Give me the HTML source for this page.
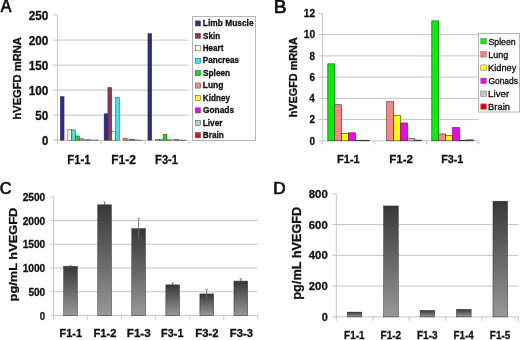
<!DOCTYPE html>
<html><head><meta charset="utf-8"><style>
html,body{margin:0;padding:0;background:#fff;overflow:hidden;}
svg{display:block;will-change:transform;}
text{font-family:"Liberation Sans", sans-serif;}
</style></head>
<body><svg width="520" height="340" viewBox="0 0 520 340">
<defs><linearGradient id="g" x1="0" y1="0" x2="0" y2="1"><stop offset="0" stop-color="#383838"/><stop offset="1" stop-color="#989898"/></linearGradient></defs>
<rect width="520" height="340" fill="#fff"/>
<line x1="57.4" y1="115.18" x2="188.5" y2="115.18" stroke="#c4c4c4" stroke-width="1"/>
<line x1="57.4" y1="90.16" x2="188.5" y2="90.16" stroke="#c4c4c4" stroke-width="1"/>
<line x1="57.4" y1="65.14" x2="188.5" y2="65.14" stroke="#c4c4c4" stroke-width="1"/>
<line x1="57.4" y1="40.12" x2="188.5" y2="40.12" stroke="#c4c4c4" stroke-width="1"/>
<line x1="57.4" y1="15.1" x2="57.4" y2="140.2" stroke="#c6c6c6" stroke-width="1"/>
<line x1="57.4" y1="140.2" x2="188.5" y2="140.2" stroke="#c6c6c6" stroke-width="1"/>
<line x1="53.4" y1="140.2" x2="57.4" y2="140.2" stroke="#c6c6c6" stroke-width="1"/>
<text transform="translate(41.97,144.8) scale(0.928,1)" font-size="12.2" font-weight="bold" fill="#111" stroke="#111" stroke-width="0.3">0</text>
<line x1="53.4" y1="115.18" x2="57.4" y2="115.18" stroke="#c6c6c6" stroke-width="1"/>
<text transform="translate(35.32,119.78) scale(0.956,1)" font-size="12.2" font-weight="bold" fill="#111" stroke="#111" stroke-width="0.3">50</text>
<line x1="53.4" y1="90.16" x2="57.4" y2="90.16" stroke="#c6c6c6" stroke-width="1"/>
<text transform="translate(28.65,94.76) scale(0.964,1)" font-size="12.2" font-weight="bold" fill="#111" stroke="#111" stroke-width="0.3">100</text>
<line x1="53.4" y1="65.14" x2="57.4" y2="65.14" stroke="#c6c6c6" stroke-width="1"/>
<text transform="translate(28.65,69.74) scale(0.964,1)" font-size="12.2" font-weight="bold" fill="#111" stroke="#111" stroke-width="0.3">150</text>
<line x1="53.4" y1="40.12" x2="57.4" y2="40.12" stroke="#c6c6c6" stroke-width="1"/>
<text transform="translate(28.65,44.72) scale(0.965,1)" font-size="12.2" font-weight="bold" fill="#111" stroke="#111" stroke-width="0.3">200</text>
<line x1="53.4" y1="15.1" x2="57.4" y2="15.1" stroke="#c6c6c6" stroke-width="1"/>
<text transform="translate(28.65,19.7) scale(0.965,1)" font-size="12.2" font-weight="bold" fill="#111" stroke="#111" stroke-width="0.3">250</text>
<line x1="57.4" y1="140.2" x2="57.4" y2="144" stroke="#c6c6c6" stroke-width="1"/>
<line x1="101.23" y1="140.2" x2="101.23" y2="144" stroke="#c6c6c6" stroke-width="1"/>
<line x1="145.07" y1="140.2" x2="145.07" y2="144" stroke="#c6c6c6" stroke-width="1"/>
<line x1="188.9" y1="140.2" x2="188.9" y2="144" stroke="#c6c6c6" stroke-width="1"/>
<rect x="60.26" y="96.67" width="3.81" height="43.53" fill="#2c2c94" stroke="#2a2a2a" stroke-width="0.45"/>
<rect x="67.88" y="129.19" width="3.81" height="11.01" fill="#ffffd0" stroke="#2a2a2a" stroke-width="0.45"/>
<rect x="71.69" y="129.89" width="3.81" height="10.31" fill="#22f0f0" stroke="#2a2a2a" stroke-width="0.45"/>
<rect x="75.51" y="135.95" width="3.81" height="4.25" fill="#14e014" stroke="#2a2a2a" stroke-width="0.45"/>
<rect x="79.32" y="138.5" width="3.81" height="1.7" fill="#ff8484" stroke="#2a2a2a" stroke-width="0.45"/>
<rect x="83.13" y="139.85" width="3.81" height="0.35" fill="#ffff20" stroke="#2a2a2a" stroke-width="0.45"/>
<rect x="86.94" y="139.82" width="3.81" height="0.38" fill="#e010e0" stroke="#2a2a2a" stroke-width="0.45"/>
<rect x="90.75" y="140.15" width="3.81" height="0.05" fill="#c8c8c8" stroke="#2a2a2a" stroke-width="0.45"/>
<rect x="94.56" y="140.05" width="3.81" height="0.15" fill="#e81010" stroke="#2a2a2a" stroke-width="0.45"/>
<rect x="104.09" y="113.78" width="3.81" height="26.42" fill="#2c2c94" stroke="#2a2a2a" stroke-width="0.45"/>
<rect x="107.9" y="87.46" width="3.81" height="52.74" fill="#923260" stroke="#2a2a2a" stroke-width="0.45"/>
<rect x="111.72" y="131.44" width="3.81" height="8.76" fill="#ffffd0" stroke="#2a2a2a" stroke-width="0.45"/>
<rect x="115.53" y="97.77" width="3.81" height="42.43" fill="#22f0f0" stroke="#2a2a2a" stroke-width="0.45"/>
<rect x="123.15" y="138.35" width="3.81" height="1.85" fill="#ff8484" stroke="#2a2a2a" stroke-width="0.45"/>
<rect x="126.96" y="139" width="3.81" height="1.2" fill="#ffff20" stroke="#2a2a2a" stroke-width="0.45"/>
<rect x="130.77" y="139.35" width="3.81" height="0.85" fill="#e010e0" stroke="#2a2a2a" stroke-width="0.45"/>
<rect x="134.58" y="140.05" width="3.81" height="0.15" fill="#c8c8c8" stroke="#2a2a2a" stroke-width="0.45"/>
<rect x="138.4" y="140.15" width="3.81" height="0.05" fill="#e81010" stroke="#2a2a2a" stroke-width="0.45"/>
<rect x="147.93" y="33.61" width="3.81" height="106.59" fill="#2c2c94" stroke="#2a2a2a" stroke-width="0.45"/>
<rect x="155.55" y="139.7" width="3.81" height="0.5" fill="#ffffd0" stroke="#2a2a2a" stroke-width="0.45"/>
<rect x="159.36" y="139.7" width="3.81" height="0.5" fill="#22f0f0" stroke="#2a2a2a" stroke-width="0.45"/>
<rect x="163.17" y="134.2" width="3.81" height="6" fill="#14e014" stroke="#2a2a2a" stroke-width="0.45"/>
<rect x="166.98" y="139.85" width="3.81" height="0.35" fill="#ff8484" stroke="#2a2a2a" stroke-width="0.45"/>
<rect x="170.79" y="139.95" width="3.81" height="0.25" fill="#ffff20" stroke="#2a2a2a" stroke-width="0.45"/>
<rect x="174.61" y="139.6" width="3.81" height="0.6" fill="#e010e0" stroke="#2a2a2a" stroke-width="0.45"/>
<rect x="178.42" y="140.05" width="3.81" height="0.15" fill="#c8c8c8" stroke="#2a2a2a" stroke-width="0.45"/>
<rect x="182.23" y="140.1" width="3.81" height="0.1" fill="#e81010" stroke="#2a2a2a" stroke-width="0.45"/>
<text transform="translate(67.29,163.9) scale(0.852,1)" font-size="13.2" font-weight="bold" fill="#111" stroke="#111" stroke-width="0.3">F1-1</text>
<text transform="translate(111.14,163.9) scale(0.910,1)" font-size="13.2" font-weight="bold" fill="#111" stroke="#111" stroke-width="0.3">F1-2</text>
<text transform="translate(155.1,163.9) scale(0.846,1)" font-size="13.2" font-weight="bold" fill="#111" stroke="#111" stroke-width="0.3">F3-1</text>
<text transform="translate(20.9,119.58) rotate(-90) scale(1.025,1)" font-size="10.9" font-weight="bold" fill="#111" stroke="#111" stroke-width="0.3">hVEGFD mRNA</text>
<rect x="192.5" y="16.5" width="63" height="124" fill="#fff" stroke="#b4b4b4" stroke-width="1"/>
<rect x="195.3" y="20.85" width="5.2" height="5.1" fill="#2c2c94" stroke="#444" stroke-width="0.5"/>
<text transform="translate(202.78,26.15) scale(0.913,1)" font-size="9.2" font-weight="bold" fill="#111" stroke="#111" stroke-width="0.3">Limb Muscle</text>
<rect x="195.3" y="33.28" width="5.2" height="5.1" fill="#923260" stroke="#444" stroke-width="0.5"/>
<text transform="translate(203.11,38.58) scale(0.882,1)" font-size="9.2" font-weight="bold" fill="#111" stroke="#111" stroke-width="0.3">Skin</text>
<rect x="195.3" y="45.71" width="5.2" height="5.1" fill="#ffffd0" stroke="#444" stroke-width="0.5"/>
<text transform="translate(202.8,51.01) scale(0.878,1)" font-size="9.2" font-weight="bold" fill="#111" stroke="#111" stroke-width="0.3">Heart</text>
<rect x="195.3" y="58.14" width="5.2" height="5.1" fill="#22f0f0" stroke="#444" stroke-width="0.5"/>
<text transform="translate(202.8,63.44) scale(0.889,1)" font-size="9.2" font-weight="bold" fill="#111" stroke="#111" stroke-width="0.3">Pancreas</text>
<rect x="195.3" y="70.57" width="5.2" height="5.1" fill="#14e014" stroke="#444" stroke-width="0.5"/>
<text transform="translate(203.1,75.87) scale(0.897,1)" font-size="9.2" font-weight="bold" fill="#111" stroke="#111" stroke-width="0.3">Spleen</text>
<rect x="195.3" y="83" width="5.2" height="5.1" fill="#ff8484" stroke="#444" stroke-width="0.5"/>
<text transform="translate(202.78,88.3) scale(0.922,1)" font-size="9.2" font-weight="bold" fill="#111" stroke="#111" stroke-width="0.3">Lung</text>
<rect x="195.3" y="95.43" width="5.2" height="5.1" fill="#ffff20" stroke="#444" stroke-width="0.5"/>
<text transform="translate(202.8,100.73) scale(0.887,1)" font-size="9.2" font-weight="bold" fill="#111" stroke="#111" stroke-width="0.3">Kidney</text>
<rect x="195.3" y="107.86" width="5.2" height="5.1" fill="#e010e0" stroke="#444" stroke-width="0.5"/>
<text transform="translate(203.02,113.16) scale(0.907,1)" font-size="9.2" font-weight="bold" fill="#111" stroke="#111" stroke-width="0.3">Gonads</text>
<rect x="195.3" y="120.29" width="5.2" height="5.1" fill="#c8c8c8" stroke="#444" stroke-width="0.5"/>
<text transform="translate(202.79,125.59) scale(0.895,1)" font-size="9.2" font-weight="bold" fill="#111" stroke="#111" stroke-width="0.3">Liver</text>
<rect x="195.3" y="132.72" width="5.2" height="5.1" fill="#e81010" stroke="#444" stroke-width="0.5"/>
<text transform="translate(202.79,138.02) scale(0.896,1)" font-size="9.2" font-weight="bold" fill="#111" stroke="#111" stroke-width="0.3">Brain</text>
<text transform="translate(0.81,12.4) scale(0.874,1)" font-size="18.3" font-weight="normal" fill="#111" stroke="#111" stroke-width="0.7">A</text>
<line x1="322.6" y1="119.57" x2="478.6" y2="119.57" stroke="#c4c4c4" stroke-width="1"/>
<line x1="322.6" y1="98.33" x2="478.6" y2="98.33" stroke="#c4c4c4" stroke-width="1"/>
<line x1="322.6" y1="77.1" x2="478.6" y2="77.1" stroke="#c4c4c4" stroke-width="1"/>
<line x1="322.6" y1="55.87" x2="478.6" y2="55.87" stroke="#c4c4c4" stroke-width="1"/>
<line x1="322.6" y1="34.63" x2="478.6" y2="34.63" stroke="#c4c4c4" stroke-width="1"/>
<line x1="322.6" y1="13.4" x2="322.6" y2="140.8" stroke="#c6c6c6" stroke-width="1"/>
<line x1="322.6" y1="140.8" x2="478.6" y2="140.8" stroke="#c6c6c6" stroke-width="1"/>
<line x1="318.6" y1="140.8" x2="322.6" y2="140.8" stroke="#c6c6c6" stroke-width="1"/>
<text transform="translate(309.56,144.5) scale(0.874,1)" font-size="11.3" font-weight="bold" fill="#111" stroke="#111" stroke-width="0.3">0</text>
<line x1="318.6" y1="119.57" x2="322.6" y2="119.57" stroke="#c6c6c6" stroke-width="1"/>
<text transform="translate(309.56,123.27) scale(0.875,1)" font-size="11.3" font-weight="bold" fill="#111" stroke="#111" stroke-width="0.3">2</text>
<line x1="318.6" y1="98.33" x2="322.6" y2="98.33" stroke="#c6c6c6" stroke-width="1"/>
<text transform="translate(309.18,102.03) scale(0.880,1)" font-size="11.3" font-weight="bold" fill="#111" stroke="#111" stroke-width="0.3">4</text>
<line x1="318.6" y1="77.1" x2="322.6" y2="77.1" stroke="#c6c6c6" stroke-width="1"/>
<text transform="translate(309.51,80.8) scale(0.875,1)" font-size="11.3" font-weight="bold" fill="#111" stroke="#111" stroke-width="0.3">6</text>
<line x1="318.6" y1="55.87" x2="322.6" y2="55.87" stroke="#c6c6c6" stroke-width="1"/>
<text transform="translate(309.45,59.57) scale(0.876,1)" font-size="11.3" font-weight="bold" fill="#111" stroke="#111" stroke-width="0.3">8</text>
<line x1="318.6" y1="34.63" x2="322.6" y2="34.63" stroke="#c6c6c6" stroke-width="1"/>
<text transform="translate(303.72,38.33) scale(0.904,1)" font-size="11.3" font-weight="bold" fill="#111" stroke="#111" stroke-width="0.3">10</text>
<line x1="318.6" y1="13.4" x2="322.6" y2="13.4" stroke="#c6c6c6" stroke-width="1"/>
<text transform="translate(303.72,17.1) scale(0.904,1)" font-size="11.3" font-weight="bold" fill="#111" stroke="#111" stroke-width="0.3">12</text>
<line x1="322.6" y1="140.8" x2="322.6" y2="144.6" stroke="#c6c6c6" stroke-width="1"/>
<line x1="374.6" y1="140.8" x2="374.6" y2="144.6" stroke="#c6c6c6" stroke-width="1"/>
<line x1="426.6" y1="140.8" x2="426.6" y2="144.6" stroke="#c6c6c6" stroke-width="1"/>
<line x1="478.6" y1="140.8" x2="478.6" y2="144.6" stroke="#c6c6c6" stroke-width="1"/>
<rect x="327.8" y="63.83" width="6.93" height="76.97" fill="#00f200" stroke="#333" stroke-width="0.6"/>
<rect x="334.73" y="104.7" width="6.93" height="36.1" fill="#ff8282" stroke="#333" stroke-width="0.6"/>
<rect x="341.67" y="133.37" width="6.93" height="7.43" fill="#ffff00" stroke="#333" stroke-width="0.6"/>
<rect x="348.6" y="132.84" width="6.93" height="7.96" fill="#f400f4" stroke="#333" stroke-width="0.6"/>
<rect x="355.53" y="140.48" width="6.93" height="0.32" fill="#c8c8c8" stroke="#333" stroke-width="0.6"/>
<rect x="362.47" y="140.16" width="6.93" height="0.64" fill="#e80000" stroke="#333" stroke-width="0.6"/>
<rect x="386.73" y="101.52" width="6.93" height="39.28" fill="#ff8282" stroke="#333" stroke-width="0.6"/>
<rect x="393.67" y="115.64" width="6.93" height="25.16" fill="#ffff00" stroke="#333" stroke-width="0.6"/>
<rect x="400.6" y="122.96" width="6.93" height="17.84" fill="#f400f4" stroke="#333" stroke-width="0.6"/>
<rect x="407.53" y="138.36" width="6.93" height="2.44" fill="#c8c8c8" stroke="#333" stroke-width="0.6"/>
<rect x="414.47" y="140.06" width="6.93" height="0.74" fill="#e80000" stroke="#333" stroke-width="0.6"/>
<rect x="431.8" y="20.83" width="6.93" height="119.97" fill="#00f200" stroke="#333" stroke-width="0.6"/>
<rect x="438.73" y="133.9" width="6.93" height="6.9" fill="#ff8282" stroke="#333" stroke-width="0.6"/>
<rect x="445.67" y="135.49" width="6.93" height="5.31" fill="#ffff00" stroke="#333" stroke-width="0.6"/>
<rect x="452.6" y="127.53" width="6.93" height="13.27" fill="#f400f4" stroke="#333" stroke-width="0.6"/>
<rect x="459.53" y="140.16" width="6.93" height="0.64" fill="#c8c8c8" stroke="#333" stroke-width="0.6"/>
<rect x="466.47" y="139.84" width="6.93" height="0.96" fill="#e80000" stroke="#333" stroke-width="0.6"/>
<text transform="translate(336.9,163.2) scale(0.959,1)" font-size="11.6" font-weight="bold" fill="#111" stroke="#111" stroke-width="0.3">F1-1</text>
<text transform="translate(389.27,163.2) scale(0.996,1)" font-size="11.6" font-weight="bold" fill="#111" stroke="#111" stroke-width="0.3">F1-2</text>
<text transform="translate(441.22,163.2) scale(0.928,1)" font-size="11.6" font-weight="bold" fill="#111" stroke="#111" stroke-width="0.3">F3-1</text>
<text transform="translate(296.5,117.26) rotate(-90) scale(1.043,1)" font-size="10.4" font-weight="bold" fill="#111" stroke="#111" stroke-width="0.3">hVEGFD mRNA</text>
<rect x="478.5" y="33.5" width="41" height="78.5" fill="#fff" stroke="#b4b4b4" stroke-width="1"/>
<rect x="480.8" y="38.5" width="5.6" height="5.4" fill="#00f200" stroke="#666" stroke-width="0.5"/>
<text transform="translate(488.48,44.55) scale(0.917,1)" font-size="9.5" font-weight="normal" fill="#111" stroke="#111" stroke-width="0.35">Spleen</text>
<rect x="480.8" y="51.7" width="5.6" height="5.4" fill="#ff8282" stroke="#666" stroke-width="0.5"/>
<text transform="translate(488.13,57.75) scale(0.950,1)" font-size="9.5" font-weight="normal" fill="#111" stroke="#111" stroke-width="0.35">Lung</text>
<rect x="480.8" y="64.9" width="5.6" height="5.4" fill="#ffff00" stroke="#666" stroke-width="0.5"/>
<text transform="translate(488.12,70.95) scale(0.969,1)" font-size="9.5" font-weight="normal" fill="#111" stroke="#111" stroke-width="0.35">Kidney</text>
<rect x="480.8" y="78.1" width="5.6" height="5.4" fill="#f400f4" stroke="#666" stroke-width="0.5"/>
<text transform="translate(488.45,84.15) scale(0.886,1)" font-size="9.5" font-weight="normal" fill="#111" stroke="#111" stroke-width="0.35">Gonads</text>
<rect x="480.8" y="91" width="5.6" height="5.4" fill="#c8c8c8" stroke="#666" stroke-width="0.5"/>
<text transform="translate(488.07,97.05) scale(1.025,1)" font-size="9.5" font-weight="normal" fill="#111" stroke="#111" stroke-width="0.35">Liver</text>
<rect x="480.8" y="103.9" width="5.6" height="5.4" fill="#e80000" stroke="#666" stroke-width="0.5"/>
<text transform="translate(488.1,109.95) scale(0.985,1)" font-size="9.5" font-weight="normal" fill="#111" stroke="#111" stroke-width="0.35">Brain</text>
<text transform="translate(273.77,12.5) scale(1.047,1)" font-size="18.3" font-weight="normal" fill="#111" stroke="#111" stroke-width="0.7">B</text>
<line x1="53.5" y1="291.76" x2="257.8" y2="291.76" stroke="#c4c4c4" stroke-width="1"/>
<line x1="53.5" y1="268.02" x2="257.8" y2="268.02" stroke="#c4c4c4" stroke-width="1"/>
<line x1="53.5" y1="244.28" x2="257.8" y2="244.28" stroke="#c4c4c4" stroke-width="1"/>
<line x1="53.5" y1="220.54" x2="257.8" y2="220.54" stroke="#c4c4c4" stroke-width="1"/>
<line x1="53.5" y1="196.8" x2="53.5" y2="315.5" stroke="#c6c6c6" stroke-width="1"/>
<line x1="53.5" y1="315.5" x2="257.8" y2="315.5" stroke="#c6c6c6" stroke-width="1"/>
<line x1="50.5" y1="315.5" x2="53.5" y2="315.5" stroke="#c6c6c6" stroke-width="1"/>
<text transform="translate(39.87,319.6) scale(0.957,1)" font-size="10.1" font-weight="bold" fill="#111" stroke="#111" stroke-width="0.3">0</text>
<line x1="50.5" y1="291.76" x2="53.5" y2="291.76" stroke="#c6c6c6" stroke-width="1"/>
<text transform="translate(28.39,295.86) scale(1.001,1)" font-size="10.1" font-weight="bold" fill="#111" stroke="#111" stroke-width="0.3">500</text>
<line x1="50.5" y1="268.02" x2="53.5" y2="268.02" stroke="#c6c6c6" stroke-width="1"/>
<text transform="translate(22.67,272.12) scale(1.006,1)" font-size="10.1" font-weight="bold" fill="#111" stroke="#111" stroke-width="0.3">1000</text>
<line x1="50.5" y1="244.28" x2="53.5" y2="244.28" stroke="#c6c6c6" stroke-width="1"/>
<text transform="translate(22.67,248.38) scale(1.006,1)" font-size="10.1" font-weight="bold" fill="#111" stroke="#111" stroke-width="0.3">1500</text>
<line x1="50.5" y1="220.54" x2="53.5" y2="220.54" stroke="#c6c6c6" stroke-width="1"/>
<text transform="translate(22.67,224.64) scale(1.006,1)" font-size="10.1" font-weight="bold" fill="#111" stroke="#111" stroke-width="0.3">2000</text>
<line x1="50.5" y1="196.8" x2="53.5" y2="196.8" stroke="#c6c6c6" stroke-width="1"/>
<text transform="translate(22.67,200.9) scale(1.006,1)" font-size="10.1" font-weight="bold" fill="#111" stroke="#111" stroke-width="0.3">2500</text>
<line x1="53.5" y1="315.5" x2="53.5" y2="319.5" stroke="#c6c6c6" stroke-width="1"/>
<line x1="87.55" y1="315.5" x2="87.55" y2="319.5" stroke="#c6c6c6" stroke-width="1"/>
<line x1="121.6" y1="315.5" x2="121.6" y2="319.5" stroke="#c6c6c6" stroke-width="1"/>
<line x1="155.65" y1="315.5" x2="155.65" y2="319.5" stroke="#c6c6c6" stroke-width="1"/>
<line x1="189.7" y1="315.5" x2="189.7" y2="319.5" stroke="#c6c6c6" stroke-width="1"/>
<line x1="223.75" y1="315.5" x2="223.75" y2="319.5" stroke="#c6c6c6" stroke-width="1"/>
<line x1="257.8" y1="315.5" x2="257.8" y2="319.5" stroke="#c6c6c6" stroke-width="1"/>
<rect x="63.72" y="266.36" width="13.62" height="49.14" fill="url(#g)" stroke="#262626" stroke-width="0.5"/>
<line x1="70.53" y1="265.41" x2="70.53" y2="266.36" stroke="#6e6e6e" stroke-width="0.9"/>
<line x1="69.33" y1="265.41" x2="71.73" y2="265.41" stroke="#6e6e6e" stroke-width="0.7"/>
<rect x="97.77" y="204.82" width="13.62" height="110.68" fill="url(#g)" stroke="#262626" stroke-width="0.5"/>
<line x1="104.58" y1="201.83" x2="104.58" y2="204.82" stroke="#6e6e6e" stroke-width="0.9"/>
<line x1="103.38" y1="201.83" x2="105.78" y2="201.83" stroke="#6e6e6e" stroke-width="0.7"/>
<rect x="131.81" y="228.61" width="13.62" height="86.89" fill="url(#g)" stroke="#262626" stroke-width="0.5"/>
<line x1="138.62" y1="218.17" x2="138.62" y2="238.82" stroke="#6e6e6e" stroke-width="0.9"/>
<line x1="137.43" y1="218.17" x2="139.82" y2="218.17" stroke="#6e6e6e" stroke-width="0.7"/>
<rect x="165.87" y="284.88" width="13.62" height="30.62" fill="url(#g)" stroke="#262626" stroke-width="0.5"/>
<line x1="172.68" y1="282.88" x2="172.68" y2="284.88" stroke="#6e6e6e" stroke-width="0.9"/>
<line x1="171.48" y1="282.88" x2="173.88" y2="282.88" stroke="#6e6e6e" stroke-width="0.7"/>
<rect x="199.92" y="293.94" width="13.62" height="21.56" fill="url(#g)" stroke="#262626" stroke-width="0.5"/>
<line x1="206.73" y1="289.29" x2="206.73" y2="298.45" stroke="#6e6e6e" stroke-width="0.9"/>
<line x1="205.53" y1="289.29" x2="207.93" y2="289.29" stroke="#6e6e6e" stroke-width="0.7"/>
<rect x="233.97" y="281.08" width="13.62" height="34.42" fill="url(#g)" stroke="#262626" stroke-width="0.5"/>
<line x1="240.78" y1="278.7" x2="240.78" y2="281.08" stroke="#6e6e6e" stroke-width="0.9"/>
<line x1="239.58" y1="278.7" x2="241.98" y2="278.7" stroke="#6e6e6e" stroke-width="0.7"/>
<text transform="translate(59.51,337.2) scale(0.971,1)" font-size="11.3" font-weight="bold" fill="#111" stroke="#111" stroke-width="0.3">F1-1</text>
<text transform="translate(93.39,337.2) scale(0.995,1)" font-size="11.3" font-weight="bold" fill="#111" stroke="#111" stroke-width="0.3">F1-2</text>
<text transform="translate(126.87,337.2) scale(1.024,1)" font-size="11.3" font-weight="bold" fill="#111" stroke="#111" stroke-width="0.3">F1-3</text>
<text transform="translate(161.12,337.2) scale(0.962,1)" font-size="11.3" font-weight="bold" fill="#111" stroke="#111" stroke-width="0.3">F3-1</text>
<text transform="translate(195.28,337.2) scale(1.004,1)" font-size="11.3" font-weight="bold" fill="#111" stroke="#111" stroke-width="0.3">F3-2</text>
<text transform="translate(229.79,337.2) scale(0.997,1)" font-size="11.3" font-weight="bold" fill="#111" stroke="#111" stroke-width="0.3">F3-3</text>
<text transform="translate(16.8,301.43) rotate(-90) scale(1.096,1)" font-size="11.7" font-weight="bold" fill="#111" stroke="#111" stroke-width="0.3">pg/mL hVEGFD</text>
<text transform="translate(-0.26,193.75) scale(0.981,1)" font-size="16.6" font-weight="normal" fill="#111" stroke="#111" stroke-width="0.7">C</text>
<line x1="336.3" y1="286.12" x2="518.5" y2="286.12" stroke="#c4c4c4" stroke-width="1"/>
<line x1="336.3" y1="255.35" x2="518.5" y2="255.35" stroke="#c4c4c4" stroke-width="1"/>
<line x1="336.3" y1="224.57" x2="518.5" y2="224.57" stroke="#c4c4c4" stroke-width="1"/>
<line x1="336.3" y1="193.8" x2="336.3" y2="316.9" stroke="#c6c6c6" stroke-width="1"/>
<line x1="336.3" y1="316.9" x2="518.5" y2="316.9" stroke="#c6c6c6" stroke-width="1"/>
<line x1="332.3" y1="316.9" x2="336.3" y2="316.9" stroke="#c6c6c6" stroke-width="1"/>
<text transform="translate(321.63,321) scale(0.983,1)" font-size="11.1" font-weight="bold" fill="#111" stroke="#111" stroke-width="0.3">0</text>
<line x1="332.3" y1="286.12" x2="336.3" y2="286.12" stroke="#c6c6c6" stroke-width="1"/>
<text transform="translate(308.77,290.23) scale(1.023,1)" font-size="11.1" font-weight="bold" fill="#111" stroke="#111" stroke-width="0.3">200</text>
<line x1="332.3" y1="255.35" x2="336.3" y2="255.35" stroke="#c6c6c6" stroke-width="1"/>
<text transform="translate(308.76,259.45) scale(1.023,1)" font-size="11.1" font-weight="bold" fill="#111" stroke="#111" stroke-width="0.3">400</text>
<line x1="332.3" y1="224.57" x2="336.3" y2="224.57" stroke="#c6c6c6" stroke-width="1"/>
<text transform="translate(308.77,228.67) scale(1.023,1)" font-size="11.1" font-weight="bold" fill="#111" stroke="#111" stroke-width="0.3">600</text>
<line x1="332.3" y1="193.8" x2="336.3" y2="193.8" stroke="#c6c6c6" stroke-width="1"/>
<text transform="translate(308.77,197.9) scale(1.023,1)" font-size="11.1" font-weight="bold" fill="#111" stroke="#111" stroke-width="0.3">800</text>
<line x1="336.3" y1="316.9" x2="336.3" y2="320.9" stroke="#c6c6c6" stroke-width="1"/>
<line x1="372.74" y1="316.9" x2="372.74" y2="320.9" stroke="#c6c6c6" stroke-width="1"/>
<line x1="409.18" y1="316.9" x2="409.18" y2="320.9" stroke="#c6c6c6" stroke-width="1"/>
<line x1="445.62" y1="316.9" x2="445.62" y2="320.9" stroke="#c6c6c6" stroke-width="1"/>
<line x1="482.06" y1="316.9" x2="482.06" y2="320.9" stroke="#c6c6c6" stroke-width="1"/>
<line x1="518.5" y1="316.9" x2="518.5" y2="320.9" stroke="#c6c6c6" stroke-width="1"/>
<rect x="347.23" y="312.13" width="14.58" height="4.77" fill="url(#g)" stroke="#262626" stroke-width="0.5"/>
<rect x="383.67" y="205.96" width="14.58" height="110.94" fill="url(#g)" stroke="#262626" stroke-width="0.5"/>
<rect x="420.11" y="310.44" width="14.58" height="6.46" fill="url(#g)" stroke="#262626" stroke-width="0.5"/>
<rect x="456.55" y="309.36" width="14.58" height="7.54" fill="url(#g)" stroke="#262626" stroke-width="0.5"/>
<rect x="492.99" y="201.19" width="14.58" height="115.71" fill="url(#g)" stroke="#262626" stroke-width="0.5"/>
<text transform="translate(344.1,339.1) scale(0.880,1)" font-size="11.3" font-weight="bold" fill="#111" stroke="#111" stroke-width="0.3">F1-1</text>
<text transform="translate(380.53,339.1) scale(0.886,1)" font-size="11.3" font-weight="bold" fill="#111" stroke="#111" stroke-width="0.3">F1-2</text>
<text transform="translate(416.98,339.1) scale(0.884,1)" font-size="11.3" font-weight="bold" fill="#111" stroke="#111" stroke-width="0.3">F1-3</text>
<text transform="translate(453.43,339.1) scale(0.870,1)" font-size="11.3" font-weight="bold" fill="#111" stroke="#111" stroke-width="0.3">F1-4</text>
<text transform="translate(489.86,339.1) scale(0.880,1)" font-size="11.3" font-weight="bold" fill="#111" stroke="#111" stroke-width="0.3">F1-5</text>
<text transform="translate(300.5,299.63) rotate(-90) scale(1.058,1)" font-size="12.0" font-weight="bold" fill="#111" stroke="#111" stroke-width="0.3">pg/mL hVEGFD</text>
<text transform="translate(273.13,193.55) scale(1.037,1)" font-size="16.6" font-weight="normal" fill="#111" stroke="#111" stroke-width="0.7">D</text>
</svg></body></html>
